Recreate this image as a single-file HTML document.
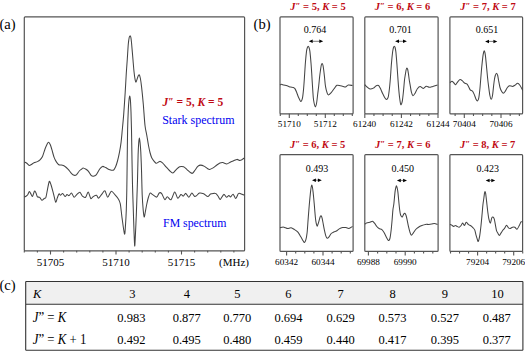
<!DOCTYPE html>
<html><head><meta charset="utf-8"><style>
html,body{margin:0;padding:0;background:#fff;}
body{width:525px;height:351px;overflow:hidden;position:relative;}
svg{position:absolute;left:0;top:0;}
text{font-family:"Liberation Serif",serif;}

.t{font-weight:bold;fill:#bf0a14;font-size:10.5px;}
.ax{font-size:9.2px;fill:#000;}
.num{font-size:10px;fill:#000;}
.tb{font-size:12.5px;fill:#000;}
.rl{font-size:12.8px;fill:#000;}
</style></head><body>
<svg width="525" height="351" viewBox="0 0 525 351">
<rect x="24.3" y="16.9" width="220.30" height="233.90" rx="0.9" fill="none" stroke="#555" stroke-width="1.2"/>
<path d="M50.50,250.8v3.6M116.00,250.8v3.6M181.50,250.8v3.6M24.30,250.8v1.8M37.40,250.8v1.8M63.60,250.8v1.8M76.70,250.8v1.8M89.80,250.8v1.8M102.90,250.8v1.8M129.10,250.8v1.8M142.20,250.8v1.8M155.30,250.8v1.8M168.40,250.8v1.8M194.60,250.8v1.8M207.70,250.8v1.8M220.80,250.8v1.8M233.90,250.8v1.8" stroke="#555" stroke-width="1.1" fill="none"/>
<path d="M24.60,162.10 C24.91,162.27 26.15,162.83 26.80,163.30 C27.45,163.77 28.55,165.23 29.20,165.40 C29.85,165.57 30.72,164.87 31.40,164.50 C32.08,164.13 33.15,163.21 34.00,162.80 C34.85,162.39 36.55,162.01 37.40,161.60 C38.25,161.19 39.28,160.62 40.00,159.90 C40.72,159.18 41.78,158.07 42.50,156.50 C43.22,154.93 44.42,150.61 45.10,148.80 C45.78,146.99 46.82,144.62 47.30,143.70 C47.78,142.78 48.09,142.19 48.50,142.30 C48.91,142.41 49.72,143.45 50.20,144.50 C50.68,145.55 51.35,147.87 51.90,149.70 C52.45,151.53 53.49,155.71 54.10,157.40 C54.71,159.09 55.53,160.57 56.20,161.60 C56.87,162.63 58.08,164.22 58.80,164.70 C59.52,165.18 60.46,164.79 61.30,165.00 C62.14,165.21 63.72,165.59 64.70,166.20 C65.68,166.81 67.22,168.25 68.20,169.30 C69.18,170.35 70.76,172.75 71.60,173.60 C72.44,174.45 73.42,175.13 74.10,175.30 C74.78,175.47 75.66,175.41 76.40,174.80 C77.14,174.19 78.53,171.82 79.30,171.00 C80.06,170.18 81.26,169.43 81.80,169.00 C82.34,168.57 82.50,167.96 83.10,168.00 C83.69,168.04 85.23,168.82 86.00,169.30 C86.77,169.78 87.78,170.55 88.50,171.40 C89.22,172.25 90.42,174.62 91.10,175.30 C91.78,175.98 92.58,176.27 93.30,176.20 C94.02,176.13 95.29,175.82 96.20,174.80 C97.11,173.78 98.79,170.19 99.70,169.00 C100.61,167.81 101.76,166.60 102.60,166.40 C103.44,166.20 104.57,167.12 105.60,167.60 C106.63,168.08 108.81,169.43 109.90,169.80 C110.99,170.17 112.51,170.60 113.30,170.20 C114.09,169.80 114.91,168.30 115.50,167.00 C116.09,165.70 116.93,163.10 117.50,161.00 C118.07,158.90 118.99,154.88 119.50,152.20 C120.01,149.52 120.70,145.27 121.10,142.10 C121.50,138.93 121.93,133.72 122.30,129.80 C122.67,125.88 123.29,119.73 123.70,114.40 C124.11,109.07 124.83,98.06 125.20,92.20 C125.57,86.34 126.00,77.70 126.30,73.00 C126.60,68.30 127.02,63.11 127.30,59.00 C127.58,54.89 128.03,47.05 128.30,44.00 C128.57,40.95 128.96,38.65 129.20,37.50 C129.44,36.35 129.77,35.94 130.00,35.90 C130.23,35.86 130.59,36.27 130.80,37.20 C131.01,38.14 131.19,39.27 131.50,42.50 C131.81,45.73 132.65,55.89 133.00,60.00 C133.35,64.11 133.72,68.81 134.00,71.50 C134.28,74.19 134.72,77.51 135.00,79.00 C135.28,80.49 135.60,82.28 136.00,82.00 C136.40,81.72 137.35,78.02 137.80,77.00 C138.25,75.98 138.83,74.59 139.20,74.80 C139.57,75.01 140.06,76.76 140.40,78.50 C140.74,80.24 141.19,83.46 141.60,87.10 C142.01,90.74 142.82,98.76 143.30,104.20 C143.78,109.64 144.50,121.09 145.00,125.50 C145.50,129.91 146.30,132.47 146.80,135.30 C147.30,138.13 148.05,143.06 148.50,145.50 C148.95,147.94 149.55,150.77 150.00,152.50 C150.45,154.23 151.13,156.48 151.70,157.70 C152.27,158.92 153.35,160.31 154.00,161.10 C154.65,161.89 155.49,163.26 156.30,163.30 C157.11,163.34 158.82,161.47 159.70,161.40 C160.58,161.33 161.61,162.03 162.50,162.80 C163.39,163.57 165.02,165.71 166.00,166.80 C166.98,167.89 168.44,169.62 169.40,170.50 C170.36,171.38 171.84,173.13 172.80,173.00 C173.76,172.87 175.24,170.48 176.20,169.60 C177.16,168.72 178.55,167.20 179.60,166.80 C180.65,166.40 182.55,166.40 183.60,166.80 C184.65,167.20 186.04,168.79 187.00,169.60 C187.96,170.41 189.63,171.98 190.40,172.50 C191.17,173.02 191.75,173.63 192.40,173.30 C193.05,172.97 194.23,171.18 195.00,170.20 C195.77,169.22 197.01,167.12 197.80,166.40 C198.59,165.68 199.65,165.10 200.60,165.10 C201.55,165.10 203.54,165.92 204.50,166.40 C205.46,166.88 206.66,168.07 207.40,168.50 C208.14,168.93 208.89,169.49 209.70,169.40 C210.51,169.31 212.14,168.48 213.10,167.90 C214.06,167.32 215.54,165.98 216.50,165.30 C217.46,164.62 219.01,163.48 219.90,163.10 C220.79,162.72 221.82,162.49 222.80,162.60 C223.78,162.71 225.75,163.96 226.80,163.90 C227.85,163.84 229.24,162.64 230.20,162.20 C231.16,161.76 232.64,161.20 233.60,160.80 C234.56,160.40 236.12,159.44 237.00,159.40 C237.88,159.36 239.08,160.47 239.80,160.50 C240.52,160.53 241.45,159.95 242.10,159.60 C242.75,159.25 244.07,158.23 244.40,158.00" fill="none" stroke="#444" stroke-width="1.05"/>
<path d="M24.30,197.10 C24.54,196.97 25.52,196.53 26.00,196.20 C26.48,195.87 27.22,195.48 27.70,194.80 C28.18,194.12 28.95,191.53 29.40,191.40 C29.85,191.27 30.46,193.19 30.90,193.90 C31.34,194.61 31.99,196.80 32.50,196.40 C33.01,196.00 34.02,191.61 34.50,191.10 C34.98,190.59 35.49,191.99 35.90,192.80 C36.31,193.61 36.86,196.16 37.40,196.80 C37.94,197.44 39.06,196.82 39.70,197.30 C40.34,197.78 41.26,200.03 41.90,200.20 C42.54,200.37 43.63,198.91 44.20,198.50 C44.77,198.09 45.42,198.67 45.90,197.30 C46.38,195.93 47.12,191.05 47.60,188.80 C48.08,186.55 48.82,181.97 49.30,181.40 C49.78,180.83 50.50,183.43 51.00,184.80 C51.50,186.17 52.30,189.24 52.80,191.10 C53.30,192.96 54.08,196.28 54.50,197.90 C54.92,199.52 55.40,202.50 55.80,202.50 C56.20,202.50 56.85,199.12 57.30,197.90 C57.75,196.68 58.55,194.28 59.00,193.90 C59.45,193.52 59.99,195.24 60.50,195.20 C61.01,195.16 61.95,193.42 62.60,193.60 C63.25,193.78 64.48,196.36 65.10,196.50 C65.72,196.64 66.45,194.73 67.00,194.60 C67.55,194.47 68.36,195.81 69.00,195.60 C69.64,195.39 70.78,192.87 71.50,193.10 C72.22,193.33 73.36,196.99 74.10,197.20 C74.84,197.41 75.88,195.29 76.70,194.60 C77.52,193.91 79.09,192.07 79.90,192.30 C80.71,192.53 81.59,195.51 82.40,196.20 C83.21,196.89 84.78,197.78 85.60,197.20 C86.42,196.62 87.46,191.92 88.20,192.10 C88.94,192.28 90.08,197.88 90.80,198.50 C91.52,199.12 92.49,196.95 93.30,196.50 C94.11,196.05 95.76,195.06 96.50,195.30 C97.24,195.54 97.76,198.33 98.50,198.20 C99.24,198.07 100.79,195.45 101.70,194.40 C102.61,193.35 104.05,190.40 104.90,190.80 C105.75,191.20 106.79,197.14 107.70,197.20 C108.61,197.26 110.25,191.53 111.30,191.20 C112.35,190.87 114.08,193.77 115.10,194.90 C116.12,196.03 117.76,197.92 118.50,199.20 C119.24,200.47 119.80,201.29 120.30,203.90 C120.80,206.51 121.41,213.34 122.00,217.60 C122.59,221.86 124.00,232.95 124.50,234.00 C125.00,235.05 125.25,228.40 125.50,225.00 C125.75,221.60 126.12,214.96 126.30,210.00 C126.48,205.04 126.67,197.08 126.80,190.00 C126.93,182.92 127.09,168.50 127.20,160.00 C127.31,151.50 127.44,137.08 127.60,130.00 C127.76,122.92 128.10,114.25 128.30,110.00 C128.50,105.75 128.80,101.98 129.00,100.00 C129.20,98.02 129.50,96.00 129.70,96.00 C129.90,96.00 130.22,97.73 130.40,100.00 C130.58,102.27 130.84,107.75 131.00,112.00 C131.16,116.25 131.36,123.20 131.50,130.00 C131.64,136.80 131.86,152.21 132.00,160.00 C132.14,167.79 132.32,177.92 132.50,185.00 C132.68,192.08 133.09,203.48 133.30,210.00 C133.51,216.52 133.80,225.90 134.00,231.00 C134.20,236.10 134.50,245.43 134.70,246.00 C134.90,246.57 135.17,239.39 135.40,235.00 C135.63,230.61 136.07,220.67 136.30,215.00 C136.53,209.33 136.83,199.96 137.00,195.00 C137.17,190.04 137.34,185.67 137.50,180.00 C137.66,174.33 137.93,160.24 138.10,155.00 C138.27,149.76 138.52,145.41 138.70,143.00 C138.88,140.59 139.20,138.00 139.40,138.00 C139.60,138.00 139.90,141.02 140.10,143.00 C140.30,144.98 140.60,148.18 140.80,152.00 C141.00,155.82 141.30,163.91 141.50,170.00 C141.70,176.09 141.96,189.33 142.20,195.00 C142.44,200.67 142.92,206.88 143.20,210.00 C143.48,213.12 143.90,216.72 144.20,217.00 C144.50,217.28 144.93,213.84 145.30,212.00 C145.67,210.16 146.35,206.12 146.80,204.00 C147.25,201.88 148.02,198.54 148.50,197.00 C148.98,195.46 149.56,193.40 150.20,193.10 C150.84,192.80 152.06,194.33 153.00,194.90 C153.94,195.47 155.92,197.37 156.80,197.10 C157.68,196.83 158.51,193.50 159.20,193.00 C159.89,192.50 160.91,192.66 161.70,193.60 C162.49,194.53 164.01,199.16 164.80,199.60 C165.59,200.04 166.42,196.67 167.30,196.70 C168.18,196.73 169.95,200.45 171.00,199.80 C172.05,199.15 173.74,192.31 174.70,192.10 C175.66,191.89 176.92,197.95 177.80,198.30 C178.68,198.65 180.11,194.91 180.90,194.60 C181.69,194.29 182.71,196.27 183.40,196.10 C184.09,195.93 185.02,193.23 185.80,193.40 C186.58,193.57 188.05,197.36 188.90,197.30 C189.75,197.24 191.01,193.14 191.80,193.00 C192.59,192.86 193.85,195.90 194.50,196.30 C195.15,196.70 195.69,196.27 196.40,195.80 C197.11,195.33 198.47,193.28 199.50,193.00 C200.53,192.72 202.52,193.30 203.70,193.80 C204.88,194.30 206.84,196.47 207.80,196.50 C208.76,196.53 209.69,194.44 210.50,194.00 C211.31,193.56 212.72,193.46 213.50,193.40 C214.28,193.34 215.32,193.16 216.00,193.60 C216.68,194.04 217.69,195.68 218.30,196.50 C218.91,197.32 219.52,199.70 220.30,199.40 C221.08,199.10 222.92,194.71 223.80,194.40 C224.68,194.09 225.79,197.04 226.50,197.20 C227.21,197.36 228.22,195.54 228.80,195.50 C229.38,195.46 229.99,197.08 230.60,196.90 C231.21,196.72 232.36,193.97 233.10,194.20 C233.84,194.43 235.05,198.60 235.80,198.50 C236.55,198.40 237.71,194.18 238.40,193.50 C239.09,192.82 240.05,193.52 240.70,193.70 C241.35,193.88 242.48,194.64 243.00,194.80 C243.52,194.96 244.20,194.80 244.40,194.80" fill="none" stroke="#444" stroke-width="1.05"/>
<rect x="280.0" y="16.9" width="73.10" height="96.90" rx="0.9" fill="none" stroke="#555" stroke-width="1.2"/>
<path d="M289.30,113.8v4.2M325.30,113.8v4.2M280.30,113.8v2.1M298.30,113.8v2.1M307.30,113.8v2.1M316.30,113.8v2.1M334.30,113.8v2.1M343.30,113.8v2.1M352.30,113.8v2.1" stroke="#555" stroke-width="1.1" fill="none"/>
<path d="M280.00,85.00 C280.20,84.90 280.88,84.30 281.40,84.30 C281.92,84.30 282.89,84.79 283.70,85.00 C284.51,85.21 286.14,85.52 287.10,85.80 C288.06,86.08 289.61,86.76 290.50,87.00 C291.39,87.24 292.75,87.23 293.40,87.50 C294.05,87.77 294.62,88.16 295.10,88.90 C295.58,89.64 296.32,91.52 296.80,92.70 C297.28,93.88 297.93,95.97 298.50,97.20 C299.07,98.43 300.23,101.32 300.80,101.40 C301.37,101.48 302.10,99.60 302.50,97.80 C302.90,96.00 303.33,91.50 303.60,88.70 C303.87,85.90 304.14,81.67 304.40,78.00 C304.65,74.33 305.10,66.57 305.40,62.80 C305.70,59.03 306.22,53.57 306.50,51.40 C306.78,49.23 307.16,48.22 307.40,47.50 C307.64,46.78 307.97,46.30 308.20,46.30 C308.43,46.30 308.76,46.78 309.00,47.50 C309.24,48.22 309.62,49.20 309.90,51.40 C310.18,53.60 310.75,59.94 311.00,63.00 C311.25,66.06 311.52,70.17 311.70,73.00 C311.88,75.83 312.07,79.49 312.30,83.00 C312.53,86.51 313.05,94.97 313.30,97.80 C313.56,100.63 313.82,101.71 314.10,103.00 C314.38,104.29 314.95,106.90 315.30,106.90 C315.65,106.90 316.26,104.83 316.60,103.00 C316.94,101.17 317.40,96.41 317.70,94.00 C318.00,91.59 318.43,88.41 318.70,86.00 C318.97,83.59 319.35,79.27 319.60,77.00 C319.86,74.73 320.26,71.70 320.50,70.00 C320.74,68.30 321.07,65.94 321.30,65.00 C321.53,64.06 321.87,63.40 322.10,63.40 C322.33,63.40 322.67,64.06 322.90,65.00 C323.13,65.94 323.47,68.30 323.70,70.00 C323.93,71.70 324.25,74.68 324.50,77.00 C324.75,79.32 325.12,84.11 325.50,86.40 C325.88,88.70 326.79,92.00 327.20,93.20 C327.61,94.40 327.83,94.97 328.40,94.90 C328.97,94.83 330.39,93.58 331.20,92.70 C332.01,91.82 333.29,89.75 334.10,88.70 C334.91,87.65 336.01,85.71 336.90,85.30 C337.79,84.89 339.51,85.64 340.40,85.80 C341.29,85.96 342.48,86.23 343.20,86.40 C343.92,86.57 344.78,87.20 345.50,87.00 C346.22,86.80 347.31,85.21 348.30,85.00 C349.29,84.79 351.91,85.43 352.50,85.50" fill="none" stroke="#444" stroke-width="1.05"/>
<rect x="364.8" y="16.9" width="73.30" height="96.90" rx="0.9" fill="none" stroke="#555" stroke-width="1.2"/>
<path d="M364.80,113.8v4.2M401.40,113.8v4.2M438.00,113.8v4.2M373.95,113.8v2.1M383.10,113.8v2.1M392.25,113.8v2.1M410.55,113.8v2.1M419.70,113.8v2.1M428.85,113.8v2.1" stroke="#555" stroke-width="1.1" fill="none"/>
<path d="M364.80,84.70 C365.13,85.03 366.36,86.41 367.10,87.00 C367.84,87.59 369.11,88.74 370.00,88.90 C370.89,89.06 372.52,88.54 373.40,88.10 C374.28,87.66 375.48,86.17 376.20,85.80 C376.92,85.43 377.93,85.17 378.50,85.50 C379.07,85.83 379.63,87.01 380.20,88.10 C380.77,89.19 381.85,91.83 382.50,93.20 C383.15,94.57 384.23,96.91 384.80,97.80 C385.37,98.69 386.02,99.58 386.50,99.50 C386.98,99.42 387.77,98.83 388.20,97.20 C388.62,95.57 389.19,90.72 389.50,88.00 C389.81,85.28 390.13,81.40 390.40,78.00 C390.67,74.60 391.09,67.68 391.40,64.00 C391.71,60.32 392.30,54.34 392.60,52.00 C392.90,49.66 393.26,48.31 393.50,47.50 C393.74,46.69 394.07,46.30 394.30,46.30 C394.53,46.30 394.87,46.69 395.10,47.50 C395.33,48.31 395.64,49.66 395.90,52.00 C396.15,54.34 396.66,60.88 396.90,64.00 C397.14,67.12 397.37,70.83 397.60,74.00 C397.83,77.17 398.22,83.03 398.50,86.40 C398.78,89.77 399.27,95.22 399.60,97.80 C399.93,100.38 400.42,104.12 400.80,104.60 C401.18,105.08 401.90,103.27 402.30,101.20 C402.70,99.13 403.29,93.00 403.60,90.00 C403.91,87.00 404.25,82.24 404.50,80.00 C404.75,77.76 405.16,75.69 405.40,74.20 C405.64,72.71 405.99,70.39 406.20,69.50 C406.41,68.61 406.69,67.90 406.90,67.90 C407.11,67.90 407.47,68.61 407.70,69.50 C407.93,70.39 408.29,72.78 408.50,74.20 C408.71,75.62 408.99,78.10 409.20,79.50 C409.41,80.90 409.69,82.31 410.00,84.10 C410.31,85.88 410.97,90.46 411.40,92.10 C411.82,93.74 412.48,95.54 413.00,95.70 C413.52,95.86 414.48,94.19 415.10,93.20 C415.72,92.21 416.68,89.64 417.40,88.70 C418.12,87.77 419.39,86.64 420.20,86.60 C421.01,86.56 422.24,88.46 423.10,88.40 C423.96,88.34 425.42,86.36 426.30,86.20 C427.18,86.04 428.38,87.27 429.30,87.30 C430.22,87.33 431.64,86.73 432.80,86.40 C433.96,86.07 436.83,85.20 437.50,85.00" fill="none" stroke="#444" stroke-width="1.05"/>
<rect x="449.9" y="16.9" width="72.70" height="96.90" rx="0.9" fill="none" stroke="#555" stroke-width="1.2"/>
<path d="M464.30,113.8v4.2M501.00,113.8v4.2M455.12,113.8v2.1M473.48,113.8v2.1M482.65,113.8v2.1M491.82,113.8v2.1M510.18,113.8v2.1M519.35,113.8v2.1" stroke="#555" stroke-width="1.1" fill="none"/>
<path d="M450.00,82.70 C450.28,82.50 451.45,81.26 452.00,81.30 C452.55,81.34 453.38,82.52 453.90,83.00 C454.42,83.48 455.16,84.87 455.70,84.70 C456.24,84.53 457.09,82.52 457.70,81.80 C458.31,81.08 459.36,79.76 460.00,79.60 C460.64,79.44 461.56,80.22 462.20,80.70 C462.84,81.18 463.85,82.55 464.50,83.00 C465.15,83.45 466.23,83.42 466.80,83.90 C467.37,84.38 468.02,85.56 468.50,86.40 C468.98,87.24 469.63,89.12 470.20,89.80 C470.77,90.48 471.93,90.55 472.50,91.20 C473.07,91.85 473.72,93.31 474.20,94.40 C474.68,95.49 475.45,97.97 475.90,98.90 C476.35,99.84 476.99,101.16 477.40,101.00 C477.81,100.84 478.43,99.64 478.80,97.80 C479.17,95.96 479.72,90.81 480.00,88.00 C480.28,85.19 480.57,80.76 480.80,78.00 C481.03,75.24 481.32,71.46 481.60,68.50 C481.88,65.54 482.52,59.40 482.80,57.10 C483.08,54.80 483.40,53.19 483.60,52.30 C483.80,51.41 484.02,50.80 484.20,50.80 C484.38,50.80 484.70,51.41 484.90,52.30 C485.10,53.19 485.35,54.80 485.60,57.10 C485.86,59.40 486.42,65.54 486.70,68.50 C486.98,71.46 487.33,75.46 487.60,78.00 C487.87,80.54 488.27,83.92 488.60,86.40 C488.93,88.88 489.53,93.67 489.90,95.50 C490.27,97.33 490.83,99.30 491.20,99.30 C491.57,99.30 492.15,97.53 492.50,95.50 C492.85,93.47 493.42,87.34 493.70,85.00 C493.98,82.66 494.27,80.35 494.50,79.00 C494.73,77.65 495.02,76.31 495.30,75.50 C495.58,74.69 496.16,73.30 496.50,73.30 C496.84,73.30 497.42,74.55 497.70,75.50 C497.98,76.45 498.17,78.30 498.50,80.00 C498.83,81.70 499.55,85.87 500.00,87.50 C500.45,89.13 501.22,90.69 501.70,91.50 C502.18,92.31 502.92,93.20 503.40,93.20 C503.88,93.20 504.53,92.31 505.10,91.50 C505.67,90.69 506.76,88.31 507.40,87.50 C508.04,86.69 508.88,85.96 509.60,85.80 C510.32,85.64 511.76,86.47 512.50,86.40 C513.24,86.33 514.08,85.74 514.80,85.30 C515.52,84.86 516.88,83.30 517.60,83.30 C518.32,83.30 519.18,84.29 519.90,85.30 C520.62,86.31 522.30,89.68 522.70,90.40" fill="none" stroke="#444" stroke-width="1.05"/>
<rect x="280.0" y="154.7" width="73.10" height="96.60" rx="0.9" fill="none" stroke="#555" stroke-width="1.2"/>
<path d="M286.60,251.3v4.2M323.00,251.3v4.2M295.70,251.3v2.1M304.80,251.3v2.1M313.90,251.3v2.1M332.10,251.3v2.1M341.20,251.3v2.1M350.30,251.3v2.1" stroke="#555" stroke-width="1.1" fill="none"/>
<path d="M280.00,227.70 C280.44,227.59 282.34,226.90 283.10,226.90 C283.87,226.90 284.75,227.47 285.40,227.70 C286.05,227.93 286.89,228.50 287.70,228.50 C288.51,228.50 290.14,227.54 291.10,227.70 C292.06,227.86 293.54,228.96 294.50,229.60 C295.46,230.24 297.01,231.18 297.90,232.20 C298.79,233.22 300.06,235.58 300.80,236.80 C301.54,238.02 302.59,239.99 303.10,240.80 C303.61,241.61 304.00,242.67 304.40,242.50 C304.80,242.33 305.52,240.97 305.90,239.60 C306.28,238.23 306.80,235.44 307.10,232.80 C307.40,230.17 307.77,223.95 308.00,221.00 C308.23,218.05 308.50,214.48 308.70,212.00 C308.90,209.52 309.14,206.32 309.40,203.50 C309.65,200.68 310.25,194.44 310.50,192.10 C310.75,189.76 311.02,188.01 311.20,187.00 C311.38,185.99 311.63,185.00 311.80,185.00 C311.97,185.00 312.22,185.99 312.40,187.00 C312.58,188.01 312.85,189.76 313.10,192.10 C313.36,194.44 313.94,200.68 314.20,203.50 C314.45,206.32 314.70,209.73 314.90,212.00 C315.10,214.27 315.39,217.80 315.60,219.50 C315.81,221.20 316.16,223.06 316.40,224.00 C316.64,224.94 316.97,226.37 317.30,226.10 C317.63,225.83 318.30,223.39 318.70,222.10 C319.10,220.81 319.77,217.89 320.10,217.00 C320.43,216.11 320.72,215.64 321.00,215.80 C321.28,215.96 321.77,216.88 322.10,218.10 C322.43,219.32 322.97,222.70 323.30,224.40 C323.63,226.10 324.05,228.48 324.40,230.10 C324.75,231.72 325.40,234.64 325.80,235.80 C326.20,236.96 326.75,238.14 327.20,238.30 C327.65,238.46 328.43,237.58 329.00,236.90 C329.57,236.22 330.48,234.22 331.20,233.50 C331.92,232.78 333.36,232.15 334.10,231.80 C334.84,231.45 335.68,231.41 336.40,231.00 C337.12,230.59 338.32,229.38 339.20,228.90 C340.08,228.42 341.64,227.78 342.60,227.60 C343.56,227.42 345.11,227.49 346.00,227.60 C346.89,227.71 347.98,228.57 348.90,228.40 C349.82,228.23 351.99,226.68 352.50,226.40" fill="none" stroke="#444" stroke-width="1.05"/>
<rect x="364.8" y="154.7" width="73.30" height="96.60" rx="0.9" fill="none" stroke="#555" stroke-width="1.2"/>
<path d="M368.40,251.3v4.2M405.20,251.3v4.2M377.60,251.3v2.1M386.80,251.3v2.1M396.00,251.3v2.1M414.40,251.3v2.1M423.60,251.3v2.1M432.80,251.3v2.1" stroke="#555" stroke-width="1.1" fill="none"/>
<path d="M364.80,224.20 C365.13,224.00 366.36,223.07 367.10,222.80 C367.84,222.53 369.24,222.53 370.00,222.30 C370.76,222.07 371.86,221.09 372.50,221.20 C373.14,221.31 373.89,222.35 374.50,223.10 C375.11,223.85 376.15,225.73 376.80,226.50 C377.45,227.27 378.38,228.06 379.10,228.50 C379.82,228.94 381.18,228.99 381.90,229.60 C382.62,230.21 383.55,231.70 384.20,232.80 C384.85,233.91 385.91,236.31 386.50,237.40 C387.09,238.49 387.92,240.34 388.40,240.50 C388.88,240.66 389.52,239.92 389.90,238.50 C390.28,237.08 390.79,233.12 391.10,230.50 C391.41,227.88 391.85,222.90 392.10,220.00 C392.36,217.10 392.64,212.34 392.90,210.00 C393.15,207.66 393.60,206.04 393.90,203.50 C394.20,200.96 394.73,194.37 395.00,192.10 C395.27,189.83 395.60,188.39 395.80,187.50 C396.00,186.61 396.22,185.80 396.40,185.80 C396.58,185.80 396.89,186.61 397.10,187.50 C397.31,188.39 397.63,189.83 397.90,192.10 C398.17,194.37 398.75,200.96 399.00,203.50 C399.25,206.04 399.49,208.43 399.70,210.00 C399.91,211.57 400.27,213.71 400.50,214.60 C400.73,215.49 401.05,215.96 401.30,216.30 C401.56,216.64 401.96,217.31 402.30,217.00 C402.64,216.69 403.35,214.64 403.70,214.10 C404.05,213.56 404.47,213.03 404.80,213.20 C405.13,213.37 405.67,214.37 406.00,215.30 C406.33,216.24 406.75,218.19 407.10,219.80 C407.45,221.42 408.09,224.91 408.50,226.70 C408.91,228.48 409.59,231.20 410.00,232.40 C410.41,233.60 410.92,235.13 411.40,235.20 C411.88,235.27 412.79,233.71 413.40,232.90 C414.01,232.09 414.98,230.31 415.70,229.50 C416.42,228.69 417.62,227.77 418.50,227.20 C419.38,226.63 420.92,225.90 421.90,225.50 C422.88,225.10 424.42,224.56 425.40,224.40 C426.38,224.24 427.92,224.44 428.80,224.40 C429.68,224.36 430.79,224.23 431.60,224.10 C432.41,223.97 433.66,223.46 434.50,223.50 C435.34,223.54 437.07,224.27 437.50,224.40" fill="none" stroke="#444" stroke-width="1.05"/>
<rect x="449.9" y="154.7" width="72.70" height="96.60" rx="0.9" fill="none" stroke="#555" stroke-width="1.2"/>
<path d="M477.60,251.3v4.2M513.70,251.3v4.2M450.52,251.3v2.1M459.55,251.3v2.1M468.58,251.3v2.1M486.62,251.3v2.1M495.65,251.3v2.1M504.68,251.3v2.1M522.73,251.3v2.1" stroke="#555" stroke-width="1.1" fill="none"/>
<path d="M450.00,224.40 C450.20,224.47 450.88,224.62 451.40,224.90 C451.92,225.18 453.13,226.31 453.70,226.40 C454.27,226.49 454.92,225.50 455.40,225.50 C455.88,225.50 456.56,226.16 457.10,226.40 C457.64,226.64 458.63,227.33 459.20,227.20 C459.77,227.07 460.62,226.09 461.10,225.50 C461.58,224.91 462.12,223.00 462.60,223.00 C463.08,223.00 463.99,225.60 464.50,225.50 C465.01,225.40 465.63,222.43 466.20,222.30 C466.77,222.17 467.85,224.12 468.50,224.60 C469.15,225.08 470.15,225.25 470.80,225.70 C471.45,226.15 472.53,227.18 473.10,227.80 C473.67,228.42 474.40,229.14 474.80,230.10 C475.20,231.06 475.57,233.40 475.90,234.60 C476.23,235.80 476.77,237.62 477.10,238.60 C477.43,239.58 477.83,241.90 478.20,241.50 C478.57,241.10 479.30,238.07 479.70,235.80 C480.10,233.53 480.66,228.59 481.00,225.50 C481.34,222.41 481.83,216.90 482.10,214.00 C482.37,211.10 482.64,207.29 482.90,205.00 C483.15,202.71 483.67,199.47 483.90,197.80 C484.13,196.13 484.34,194.09 484.50,193.20 C484.66,192.31 484.84,191.50 485.00,191.50 C485.16,191.50 485.43,192.31 485.60,193.20 C485.77,194.09 486.00,196.13 486.20,197.80 C486.40,199.47 486.77,202.99 487.00,205.00 C487.23,207.01 487.55,210.06 487.80,212.00 C488.06,213.94 488.45,217.11 488.80,218.70 C489.15,220.29 489.89,223.28 490.30,223.20 C490.71,223.11 491.33,218.98 491.70,218.10 C492.07,217.22 492.53,216.84 492.90,217.00 C493.27,217.16 493.95,218.08 494.30,219.20 C494.65,220.32 495.09,223.28 495.40,224.90 C495.71,226.52 496.15,229.41 496.50,230.60 C496.85,231.79 497.49,232.61 497.90,233.30 C498.31,233.99 498.95,235.56 499.40,235.50 C499.85,235.44 500.62,233.64 501.10,232.90 C501.58,232.16 502.32,230.94 502.80,230.30 C503.28,229.66 503.96,229.11 504.50,228.40 C505.04,227.69 506.03,225.39 506.60,225.30 C507.17,225.22 507.96,227.36 508.50,227.80 C509.04,228.24 509.83,228.49 510.40,228.40 C510.97,228.31 511.88,227.37 512.50,227.20 C513.12,227.03 514.16,226.92 514.80,227.20 C515.44,227.48 516.36,229.44 517.00,229.20 C517.64,228.96 518.73,226.53 519.30,225.50 C519.87,224.47 520.52,222.41 521.00,221.90 C521.48,221.39 522.46,221.90 522.70,221.90" fill="none" stroke="#444" stroke-width="1.05"/>
<path d="M312.4,41.3H319.6" stroke="#555" stroke-width="0.8"/><path d="M308.8,41.3l3.9,-1.75v3.5z M323.2,41.3l-3.9,-1.75v3.5z" fill="#000"/><path d="M398.7,41.3H403.3" stroke="#555" stroke-width="0.8"/><path d="M395.1,41.3l3.9,-1.75v3.5z M406.9,41.3l-3.9,-1.75v3.5z" fill="#000"/><path d="M488.7,41.4H493.70000000000005" stroke="#555" stroke-width="0.8"/><path d="M485.1,41.4l3.9,-1.75v3.5z M497.3,41.4l-3.9,-1.75v3.5z" fill="#000"/><path d="M315.59999999999997,180.2H318.20000000000005" stroke="#555" stroke-width="0.8"/><path d="M312.0,180.2l3.9,-1.75v3.5z M321.8,180.2l-3.9,-1.75v3.5z" fill="#000"/><path d="M400.49999999999994,180.4H403.40000000000003" stroke="#555" stroke-width="0.8"/><path d="M396.9,180.4l3.9,-1.75v3.5z M407.0,180.4l-3.9,-1.75v3.5z" fill="#000"/><path d="M489.29999999999995,180.4H491.6" stroke="#555" stroke-width="0.8"/><path d="M485.7,180.4l3.9,-1.75v3.5z M495.2,180.4l-3.9,-1.75v3.5z" fill="#000"/>
<text x="-0.6" y="28.6" font-size="14.6">(a)</text>
<text x="253.6" y="28.9" font-size="14.6">(b)</text>
<text x="-0.6" y="289.6" font-size="14.6">(c)</text>
<g class="t">
<text x="162.5" y="105.6" font-size="11.5"><tspan font-style="italic">J<tspan font-size="85%" baseline-shift="1.1">″</tspan></tspan> = 5, <tspan font-style="italic">K</tspan> = 5</text>
<text x="318" y="9.8" text-anchor="middle"><tspan font-style="italic">J<tspan font-size="85%" baseline-shift="1.1">″</tspan></tspan> = 5, <tspan font-style="italic">K</tspan> = 5</text>
<text x="402.5" y="9.8" text-anchor="middle"><tspan font-style="italic">J<tspan font-size="85%" baseline-shift="1.1">″</tspan></tspan> = 6, <tspan font-style="italic">K</tspan> = 6</text>
<text x="488" y="9.8" text-anchor="middle"><tspan font-style="italic">J<tspan font-size="85%" baseline-shift="1.1">″</tspan></tspan> = 7, <tspan font-style="italic">K</tspan> = 7</text>
<text x="317.6" y="147.9" text-anchor="middle"><tspan font-style="italic">J<tspan font-size="85%" baseline-shift="1.1">″</tspan></tspan> = 6, <tspan font-style="italic">K</tspan> = 5</text>
<text x="402.7" y="147.9" text-anchor="middle"><tspan font-style="italic">J<tspan font-size="85%" baseline-shift="1.1">″</tspan></tspan> = 7, <tspan font-style="italic">K</tspan> = 6</text>
<text x="487.6" y="147.9" text-anchor="middle"><tspan font-style="italic">J<tspan font-size="85%" baseline-shift="1.1">″</tspan></tspan> = 8, <tspan font-style="italic">K</tspan> = 7</text>
</g>
<text x="162.2" y="123.6" font-size="12" fill="#0000f0">Stark spectrum</text>
<text x="163.1" y="226.9" font-size="11.8" fill="#0000f0">FM spectrum</text>
<g class="num" text-anchor="middle">
<text x="315" y="32.7">0.764</text>
<text x="400.6" y="32.7">0.701</text>
<text x="487" y="32.7">0.651</text>
<text x="317" y="172">0.493</text>
<text x="402.8" y="172">0.450</text>
<text x="487.8" y="172">0.423</text>
</g>
<g font-size="11" text-anchor="middle">
<text x="50.5" y="266">51705</text>
<text x="116" y="266">51710</text>
<text x="181.5" y="266">51715</text>
<text x="234" y="266">(MHz)</text>
</g>
<g class="ax" text-anchor="middle">
<text x="289.3" y="127">51710</text>
<text x="325.3" y="127">51712</text>
<text x="364.6" y="127">61240</text>
<text x="401.4" y="127">61242</text>
<text x="438" y="127">61244</text>
<text x="464.3" y="127">70404</text>
<text x="501" y="127">70406</text>
<text x="286.6" y="264.8">60342</text>
<text x="323" y="264.8">60344</text>
<text x="368.4" y="264.8">69988</text>
<text x="405.2" y="264.8">69990</text>
<text x="477.6" y="264.8">79204</text>
<text x="513.7" y="264.8">79206</text>
</g>
<!-- table -->
<rect x="25.7" y="281.5" width="497.2" height="22.7" fill="#f0f0f0"/>
<path d="M25.7,281.5H522.9M25.7,304.2H522.9M25.7,350.3H522.9M25.7,281.5V350.3M522.9,281.5V350.3" stroke="#333" stroke-width="1.1" fill="none"/>
<g class="tb">
<text x="33" y="298.4" font-style="italic" transform="matrix(1 0 0 1.07 0 -20.888)">K</text>
<text class="rl" x="32.8" y="322.3" transform="matrix(1 0 0 1.07 0 -22.561)"><tspan font-style="italic">J</tspan>” = <tspan font-style="italic">K</tspan></text>
<text class="rl" x="32.8" y="344.5" transform="matrix(1 0 0 1.07 0 -24.115)"><tspan font-style="italic">J</tspan>” = <tspan font-style="italic">K</tspan> + 1</text>
</g>
<g class="tb" text-anchor="middle">
<text x="132.5" y="298.4" transform="matrix(1 0 0 1.07 0 -20.888)">3</text><text x="187" y="298.4" transform="matrix(1 0 0 1.07 0 -20.888)">4</text><text x="237.5" y="298.4" transform="matrix(1 0 0 1.07 0 -20.888)">5</text><text x="288.5" y="298.4" transform="matrix(1 0 0 1.07 0 -20.888)">6</text><text x="340.6" y="298.4" transform="matrix(1 0 0 1.07 0 -20.888)">7</text><text x="392.5" y="298.4" transform="matrix(1 0 0 1.07 0 -20.888)">8</text><text x="444.9" y="298.4" transform="matrix(1 0 0 1.07 0 -20.888)">9</text><text x="497.6" y="298.4" transform="matrix(1 0 0 1.07 0 -20.888)">10</text>
<text x="131.4" y="322.4" transform="matrix(1 0 0 1.07 0 -22.568)">0.983</text><text x="186.8" y="322.4" transform="matrix(1 0 0 1.07 0 -22.568)">0.877</text><text x="237.3" y="322.4" transform="matrix(1 0 0 1.07 0 -22.568)">0.770</text><text x="288.5" y="322.4" transform="matrix(1 0 0 1.07 0 -22.568)">0.694</text><text x="340.6" y="322.4" transform="matrix(1 0 0 1.07 0 -22.568)">0.629</text><text x="392.5" y="322.4" transform="matrix(1 0 0 1.07 0 -22.568)">0.573</text><text x="444.9" y="322.4" transform="matrix(1 0 0 1.07 0 -22.568)">0.527</text><text x="496.8" y="322.4" transform="matrix(1 0 0 1.07 0 -22.568)">0.487</text>
<text x="131.4" y="344.5" transform="matrix(1 0 0 1.07 0 -24.115)">0.492</text><text x="186.8" y="344.5" transform="matrix(1 0 0 1.07 0 -24.115)">0.495</text><text x="237.3" y="344.5" transform="matrix(1 0 0 1.07 0 -24.115)">0.480</text><text x="288.5" y="344.5" transform="matrix(1 0 0 1.07 0 -24.115)">0.459</text><text x="340.6" y="344.5" transform="matrix(1 0 0 1.07 0 -24.115)">0.440</text><text x="392.5" y="344.5" transform="matrix(1 0 0 1.07 0 -24.115)">0.417</text><text x="444.9" y="344.5" transform="matrix(1 0 0 1.07 0 -24.115)">0.395</text><text x="496.8" y="344.5" transform="matrix(1 0 0 1.07 0 -24.115)">0.377</text>
</g>
</svg>
</body></html>
